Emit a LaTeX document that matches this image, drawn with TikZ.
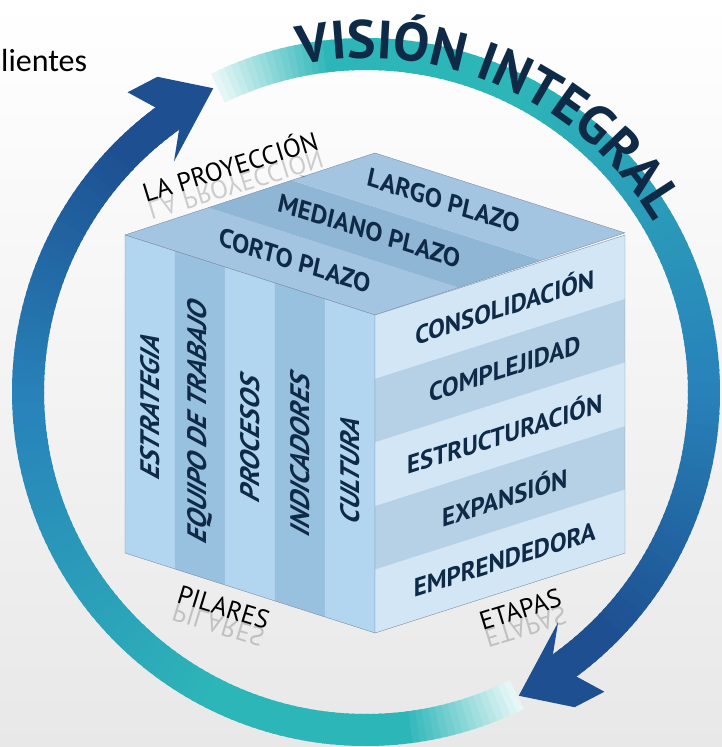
\documentclass[tikz,border=0pt]{standalone}
\usepackage{fontspec}
\setmainfont{PT Sans}
\newfontfamily\calib{Carlito}
\usetikzlibrary{decorations.text}

\definecolor{tinta}{HTML}{0E2A47}
\definecolor{ringteal}{HTML}{2DB6B8}
\definecolor{ringblue}{HTML}{2884BA}
\definecolor{ringdark}{HTML}{1D4F91}
\definecolor{colclaro}{HTML}{B3D6F0}
\definecolor{coloscuro}{HTML}{98C1DF}
\definecolor{bandclaro}{HTML}{D2E6F5}
\definecolor{bandoscuro}{HTML}{B6D0E6}
\definecolor{techo}{HTML}{A3C5E1}
\definecolor{techoosc}{HTML}{90B6D6}
\definecolor{borde}{HTML}{7C8EA3}

\tikzset{
  pilar/.style={font=\bfseries\itshape\fontsize{28}{28}\selectfont, text=tinta},
  etapa/.style={font=\bfseries\fontsize{26}{26}\selectfont, text=tinta},
  plazo/.style={font=\bfseries\itshape\fontsize{27}{27}\selectfont, text=tinta},
  etiq/.style={font=\fontsize{26}{26}\selectfont, text=black, anchor=base},
  reflejo/.style={opacity=.18}
}

% arco con degradado: angulo inicial, barrido
\newcommand{\anillo}[2]{%
  \foreach \i in {0,...,143}{%
    \pgfmathsetmacro\aini{#1+#2/144*\i}
    \pgfmathsetmacro\afin{#1+#2/144*(\i+1.4)}
    \pgfmathtruncatemacro\mq{max(0,min(100,(\i-44)*2))}
    \pgfmathtruncatemacro\mr{100-max(0,min(100,(\i-96)*2.5))}
    \pgfmathtruncatemacro\mw{min(100,12+\i*5.5)}
    \draw[line width=32, ringblue!\mq!ringteal!\mr!ringdark!\mw!white] (\aini:338) arc (\aini:\afin:338);
  }}

\begin{document}
\begin{tikzpicture}[x=1pt,y=1pt]
    \shade[top color=white, bottom color=black!9] (0,0) rectangle (722,-747);
    \node[font=\calib\fontsize{32}{32}\selectfont, anchor=base west, inner sep=0] (clientes) at (1,-71) {lientes};

    % anillo
    \begin{scope}[shift={(366,-392)}]
        \anillo{-63.5}{-170.5}
        \anillo{116}{-170}
        \fill[ringdark] (126.5:354) -- (128.5:383) -- (123.5:378) -- (116.7:340) -- (129.8:300) -- (125.5:322) -- cycle;
        \fill[ringdark] (-53.5:354) -- (-51.5:383) -- (-56.5:378) -- (-63.3:340) -- (-50.2:300) -- (-54.5:322) -- cycle;
        \path[decorate, decoration={text along path, text align=center, text color=tinta,
            text format delimiters={|}{|}, text={|\fontsize{54}{54}\bfseries|VISIÓN INTEGRAL}}]
            (106:334) arc (106:26:334);
    \end{scope}

    % cara superior
    \begin{scope}[shift={(125,-235)}, cm={0.954,-0.305,0.954,0.313,(0,0)}]
        \fill[techo] (0,0) rectangle (262,87.3);
        \fill[techoosc] (0,87.3) rectangle (262,174.7);
        \fill[techo] (0,174.7) rectangle (262,262);
        \draw[borde] (0,0) rectangle (262,262);
        \foreach \lbl [count=\i from 0] in {CORTO PLAZO, MEDIANO PLAZO, LARGO PLAZO}
            \node[plazo, cm={0.954,-0.305,0,1,(0,0)}] (t\i) at ({131-9*\i},{46+87*\i}) {\lbl};
    \end{scope}

    % cara izquierda
    \begin{scope}[shift={(125,-553)}, cm={0.954,-0.305,0,1,(0,0)}]
        \foreach \i/\c in {0/colclaro,1/coloscuro,2/colclaro,3/coloscuro,4/colclaro}
            \fill[\c] ({52.4*\i},0) rectangle ({52.4*(\i+1)},318);
        \draw[borde] (0,0) rectangle (262,318);
        \foreach \lbl [count=\i from 0] in {ESTRATEGIA, EQUIPO DE TRABAJO, PROCESOS, INDICADORES, CULTURA}
            \node[pilar, transform shape, rotate=90] (p\i) at ({26.2+52.4*\i},155) {\lbl};
    \end{scope}

    % cara derecha
    \begin{scope}[shift={(375,-633)}, cm={0.954,0.305,0,1,(0,0)}]
        \foreach \i/\c in {0/bandclaro,1/bandoscuro,2/bandclaro,3/bandoscuro,4/bandclaro}
            \fill[\c] (0,{63.6*\i}) rectangle (262,{63.6*(\i+1)});
        \draw[borde] (0,0) rectangle (262,318);
        \foreach \lbl [count=\i from 0] in {EMPRENDEDORA, EXPANSIÓN, ESTRUCTURACIÓN, COMPLEJIDAD, CONSOLIDACIÓN}
            \node[etapa, transform shape] (e\i) at (136,{63.6*\i+31.8}) {\lbl};
    \end{scope}

    % etiquetas con reflejo
    \node[etiq, rotate=17] (proy) at (233,-176) {LA PROYECCIÓN};
    \node[etiq, reflejo, rotate=17, yscale=-1] (proyr) at (233,-176) {LA PROYECCIÓN};
    \node[etiq, rotate=-17] (pil) at (221,-616) {PILARES};
    \node[etiq, reflejo, rotate=-17, yscale=-1] (pilr) at (221,-616) {PILARES};
    \node[etiq, rotate=17] (eta) at (523,-618) {ETAPAS};
    \node[etiq, reflejo, rotate=17, yscale=-1] (etar) at (523,-618) {ETAPAS};
\end{tikzpicture}
\end{document}
